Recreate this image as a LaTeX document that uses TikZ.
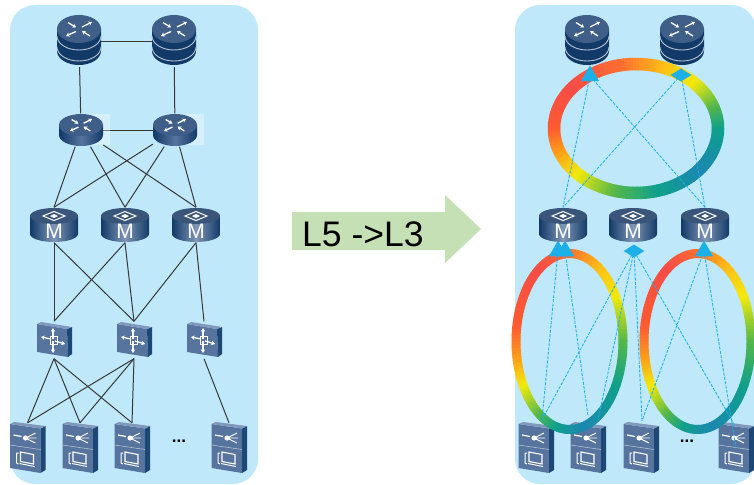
\documentclass[tikz,border=0pt]{standalone}
\usepackage{fontspec}
\setmainfont{Liberation Sans}
\usetikzlibrary{arrows.meta,calc,shapes.geometric}
\definecolor{panel}{HTML}{BFE9FA}
\definecolor{navy}{HTML}{123A68}
\definecolor{topblue}{HTML}{3F5F88}
\definecolor{cyanl}{HTML}{1CB0E8}
\definecolor{faceb}{HTML}{56749E}
\definecolor{sideb}{HTML}{1D4775}
\definecolor{topb}{HTML}{7F98BB}
\definecolor{kteal}{HTML}{0FA08C}
\definecolor{kgreen}{HTML}{55B84A}
\definecolor{kyellow}{HTML}{F2EA0C}
\definecolor{kamber}{HTML}{FFC015}
\definecolor{korange}{HTML}{FF6E30}
\definecolor{kred}{HTML}{F64C48}
\definecolor{kredo}{HTML}{FF5A30}
\definecolor{korng}{HTML}{FF9A1A}
\definecolor{kblue}{HTML}{1B88B0}
\newcommand{\ringsegs}[6]{% cx cy rx ry width stoplist
  \foreach \ta/\ca/\tb/\cb in {#6}{
    \pgfmathtruncatemacro{\nseg}{(\tb-\ta)/2}
    \foreach \k in {1,...,\nseg}{
      \pgfmathsetmacro{\ua}{\ta+(\k-1)*(\tb-\ta)/\nseg}
      \pgfmathsetmacro{\ub}{\ua+(\tb-\ta)/\nseg+0.6}
      \pgfmathtruncatemacro{\pc}{100*(\k-0.5)/\nseg}
      \draw[line width=#5,color=\cb!\pc!\ca]
        ({#1+#3*cos(\ua)},{#2-#4*sin(\ua)}) -- ({#1+#3*cos(\ub)},{#2-#4*sin(\ub)});
    }
  }
}
\newcommand{\rglyph}{%
  \draw[glyph] (-11,-6.5) -- (-3,-1.5);
  \draw[glyph] (3,-2) -- (13,-7);
  \draw[glyph] (-3,2.5) -- (-13,7);
  \draw[glyph] (11,7) -- (3,2);
}
\tikzset{
  glyph/.style={white,line width=1.3pt,-{Stealth[length=3.6pt,width=4.4pt]}},
  slot/.style={inner sep=0pt,minimum width=#1},
  bigslot/.style={rectangle,inner sep=0pt,minimum width=44pt,minimum height=50pt},
  smallslot/.style={rectangle,inner sep=0pt,minimum width=44pt,minimum height=33pt},
  mslot/.style={rectangle,inner sep=0pt,minimum width=48pt,minimum height=35pt},
  accslot/.style={rectangle,inner sep=0pt,minimum width=35pt,minimum height=37pt},
  srvslot/.style={rectangle,inner sep=0pt,minimum width=35pt,minimum height=50pt},
  link/.style={draw=black!78,line width=1pt},
  vlink/.style={draw=cyanl,line width=.85pt,dash pattern=on 3pt off 1.4pt},
  markd/.style={diamond,fill=cyanl,inner sep=0pt,minimum width=21pt,minimum height=13pt},
  markt/.style={regular polygon,regular polygon sides=3,fill=cyanl,inner sep=0pt,minimum size=21pt},
  bigrouter/.pic={
    \fill[navy] (-22,-13) -- (-22,9) arc[start angle=180,end angle=360,x radius=22pt,y radius=14pt] -- (22,-13) -- cycle;
    \draw[white!70!navy,line width=.9pt] (-22,-6) arc[start angle=180,end angle=360,x radius=22pt,y radius=14pt];
    \draw[white!70!navy,line width=.9pt] (-22,5) arc[start angle=180,end angle=360,x radius=22pt,y radius=14pt];
    \fill[topblue] (0,-13) ellipse[x radius=22pt,y radius=14pt];
    \begin{scope}[shift={(0,-13)}]\rglyph\end{scope}
  },
  smallrouter/.pic={
    \fill[white,opacity=.35] (-12,-16) rectangle (29,15);
    \shade[left color=navy,right color=navy,middle color=faceb]
      (-22,-5) -- (-22,5) arc[start angle=180,end angle=360,x radius=22pt,y radius=11pt] -- (22,-5) -- cycle;
    \fill[topblue] (0,-5) ellipse[x radius=22pt,y radius=11pt];
    \begin{scope}[shift={(0,-5)},scale=.85]\rglyph\end{scope}
  },
  mswitch/.pic={
    \shade[left color=navy,right color=navy,middle color=white!25!faceb]
      (-24,-9) -- (-24,9) arc[start angle=180,end angle=360,x radius=24pt,y radius=8pt] -- (24,-9) -- cycle;
    \fill[black!10!topblue] (0,-9) ellipse[x radius=24pt,y radius=8pt];
    \draw[white,line width=1pt] (-11,-9) -- (0,-13.5) -- (11,-9) -- (0,-4.5) -- cycle;
    \fill[white] (-4,-9) -- (0,-11) -- (4,-9) -- (0,-7) -- cycle;
    \node[white,font=\fontsize{21}{21}\selectfont,inner sep=0pt] at (0,6) {M};
  },
  accsw/.pic={
    \fill[faceb] (-17,-16) -- (13,-11) -- (14,17) -- (-17,12) -- cycle;
    \fill[sideb] (13,-11) -- (18,-13) -- (18,14) -- (14,17) -- cycle;
    \fill[topb] (-17,-16) -- (-13,-18) -- (18,-13) -- (13,-11) -- cycle;
    \draw[glyph] (-1,-1) -- (-1,-12);
    \draw[glyph] (-1,1) -- (-1,13);
    \draw[glyph] (-3,-1) -- (-13,-3);
    \draw[glyph] (1,1) -- (11,4);
    \draw[white,line width=1pt] (-4,-4) rectangle (3,4);
  },
  server/.pic={
    \fill[faceb] (-17.5,-24) -- (13,-19.5) -- (13,25) -- (-17.5,20) -- cycle;
    \fill[sideb] (13,-19.5) -- (18,-22) -- (18,22) -- (13,25) -- cycle;
    \fill[topb] (-17.5,-24) -- (-13,-26) -- (18,-22) -- (13,-19.5) -- cycle;
    \draw[white!55!faceb,line width=.6pt] (-17.5,-3) -- (13,1.5);
    \draw[white,line width=1.2pt] (-14,-13) -- (-6,-11.5);
    \fill[white] (-2,-10) circle (2.6pt);
    \draw[white,line width=.9pt] (-2,-10) -- (8,-15) (-2,-10) -- (9,-10) (-2,-10) -- (8,-5);
    \draw[white,line width=1.1pt] (-7,4) -- (6,6.5) -- (6,16) -- (-7,13.5) -- cycle;
    \draw[white,line width=1pt] (-9,5) -- (-11,5) -- (-11,15) -- (-9,16);
    \fill[white] (-8,15) -- (7,18) -- (7,19) -- (-8,16) -- cycle;
  }
}
\begin{document}
\begin{tikzpicture}[x=1pt,y=-1pt]
\useasboundingbox (0,0) rectangle (754,484);
\fill[white] (0,0) rectangle (754,484);
\fill[panel,rounded corners=25pt] (10,5) rectangle (258,484);
\fill[panel,rounded corners=25pt] (515,5) rectangle (756,484);
% left nodes
\node[bigslot] (lr1) at (79,42) {};
\node[bigslot] (lr2) at (174,42) {};
\node[smallslot] (ls1) at (81,130) {};
\node[smallslot] (ls2) at (175,130) {};
\node[mslot] (lm1) at (54,225) {};
\node[mslot] (lm2) at (125,225) {};
\node[mslot] (lm3) at (196,225) {};
\node[accslot] (la1) at (54,340) {};
\node[accslot] (la2) at (134,340) {};
\node[accslot] (la3) at (204,340) {};
\node[srvslot] (lv1) at (27.5,448) {};
\node[srvslot] (lv2) at (80,448) {};
\node[srvslot] (lv3) at (132,448) {};
\node[srvslot] (lv4) at (229,448) {};
% left connectors
\draw[link] (lr1) -- (lr2);
\draw[link] (lr1) -- (ls1);
\draw[link] (lr2) -- (ls2);
\draw[link] (ls1) -- (ls2);
\foreach \a in {ls1,ls2}\foreach \b in {lm1,lm2,lm3}{\draw[link] (\a) -- (\b.north);}
\foreach \a in {lm1,lm2}\foreach \b in {la1,la2}{\draw[link] (\a.south) -- (\b.north);}
\draw[link] (lm3.south) -- (la2.north);
\draw[link] (lm3.south) -- (la3.north);
\foreach \a in {la1,la2}\foreach \b in {lv1,lv2,lv3}{\draw[link] (\a.south) -- (\b.north);}
\draw[link] (la3.south) -- (lv4.north);
% left icons
\foreach \n in {lr1,lr2}{\pic at (\n) {bigrouter};}
\foreach \n in {ls1,ls2}{\pic at (\n) {smallrouter};}
\foreach \n in {lm1,lm2,lm3}{\pic at (\n) {mswitch};}
\foreach \n in {la1,la2,la3}{\pic at (\n) {accsw};}
\foreach \n in {lv1,lv2,lv3,lv4}{\pic at (\n) {server};}
\node[font=\bfseries\fontsize{17}{17}\selectfont,inner sep=0pt] (ldots) at (179,441) {...};
% arrow
\fill[green!25!white,fill={rgb,255:red,197;green,224;blue,180}] (292,212) -- (445,212) -- (445,195) -- (481,229) -- (445,263) -- (445,250) -- (292,250) -- cycle;
\node[font=\fontsize{35.5}{36}\selectfont,inner sep=0pt,anchor=west] (lbl) at (302,234) {L5 ->L3};
% right nodes
\node[bigslot] (rr1) at (587,42) {};
\node[bigslot] (rr2) at (682,42) {};
\node[mslot] (rm1) at (563,225) {};
\node[mslot] (rm2) at (633,225) {};
\node[mslot] (rm3) at (705,225) {};
\node[srvslot] (rv1) at (536,448) {};
\node[srvslot] (rv2) at (588,448) {};
\node[srvslot] (rv3) at (641,448) {};
\node[srvslot] (rv4) at (736,448) {};
\foreach \n in {rr1,rr2}{\pic at (\n) {bigrouter};}
\foreach \n in {rv1,rv2,rv3,rv4}{\pic at (\n) {server};}
\node[font=\bfseries\fontsize{17}{17}\selectfont,inner sep=0pt] (rdots) at (687,441) {...};
% rings
\ringsegs{636}{128.5}{82}{64.5}{12.5pt}{0/kteal/20/kgreen,20/kgreen/45/kyellow,45/kyellow/70/kamber,70/kamber/100/korange,100/korange/140/kred,140/kred/180/kredo,180/kredo/200/korng,200/korng/225/kyellow,225/kyellow/255/kgreen,255/kgreen/285/kteal,285/kteal/320/kblue,320/kblue/360/kteal}
\def\lowstops{0/kgreen/30/kyellow,30/kyellow/55/kamber,55/kamber/90/korange,90/korange/125/kred,125/kred/170/kredo,170/kredo/190/korng,190/korng/210/kyellow,210/kyellow/235/kgreen,235/kgreen/255/kteal,255/kteal/285/kblue,285/kblue/330/kteal,330/kteal/360/kgreen}
\foreach \cx in {569.5,697.5}{
  \expandafter\ringsegs\expandafter{\cx}{341.5}{53.5}{88}{9pt}{0/kgreen/30/kyellow,30/kyellow/55/kamber,55/kamber/90/korange,90/korange/125/kred,125/kred/170/kredo,170/kredo/190/korng,190/korng/210/kyellow,210/kyellow/235/kgreen,235/kgreen/255/kteal,255/kteal/285/kblue,285/kblue/330/kteal,330/kteal/360/kgreen}
}
% markers
\node[markt] (ta) at (590,76) {};
\node[markd] (tb) at (681,75) {};
\node[markt] (la) at (558,251) {};
\node[markt] (lb) at (565,251) {};
\node[markd] (lc) at (634,251) {};
\node[markt] (ld) at (704,251) {};
% dashed connectors
\draw[vlink] (ta.center) -- (rm1.north);
\draw[vlink] (ta.center) -- (rm3.north);
\draw[vlink] (tb.center) -- (rm1.north);
\draw[vlink] (tb.center) -- (rm3.north);
\draw[vlink] (la.center) -- ($(rv1.north)+(6,-3)$);
\draw[vlink] (lb.center) -- ($(rv2.north)+(0,-7)$);
\draw[vlink] (lc.center) -- ($(rv1.north)+(6,-3)$);
\draw[vlink] (lc.center) -- ($(rv2.north)+(10,-3)$);
\draw[vlink] (lc.center) -- ($(rv3.north)+(1,-2)$);
\draw[vlink] (lc.center) -- ($(rv4.north)+(-1,3)$);
\draw[vlink] (ld.center) -- ($(rv3.north)+(1,-2)$);
\draw[vlink] (ld.center) -- (rv4.center);
\foreach \n in {rm1,rm2,rm3}{\pic at (\n) {mswitch};}
\end{tikzpicture}
\end{document}
